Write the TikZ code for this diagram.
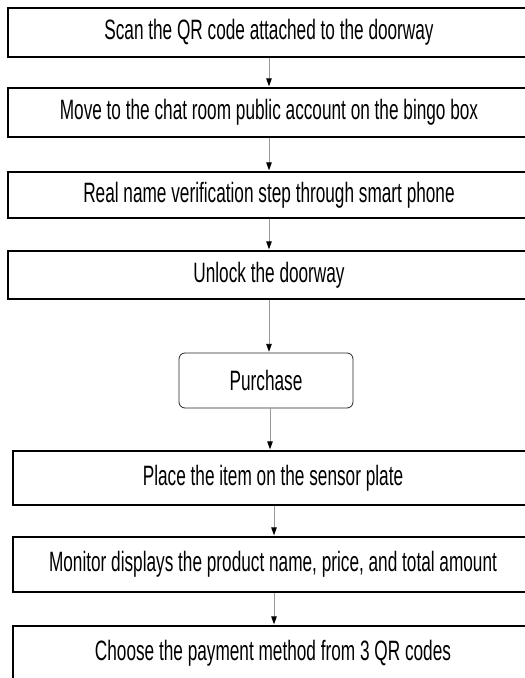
\documentclass[tikz,border=0pt]{standalone}
\usepackage{fontspec}
\setmainfont{Liberation Sans}[FakeStretch=0.615]
\usetikzlibrary{arrows.meta}
\begin{document}
\begin{tikzpicture}[x=1pt,y=1pt,
  stepbox/.style={draw=black, line width=1.7pt, fill=white, inner sep=0pt,
    minimum width=522pt, minimum height=49pt, font=\fontsize{28}{32}\selectfont},
  roundbox/.style={draw=black!85, line width=0.8pt, rounded corners=6pt, inner sep=0pt,
    minimum width=174pt, minimum height=55pt, font=\fontsize{28}{32}\selectfont},
  flow/.style={draw=gray!80, line width=0.9pt, -{Triangle[length=8pt,width=5.5pt,color=black]}, shorten >=0.8pt}
]
\useasboundingbox (0,0) rectangle (525,-678);
\clip (0,0) rectangle (525,-678);
\fill[white] (0,0) rectangle (525,-678);

\node[stepbox] (b1) at (269,-32.5) {Scan the QR code attached to the doorway};
\node[stepbox] (b2) at (269,-112.5) {Move to the chat room public account on the bingo box};
\node[stepbox, minimum height=46pt] (b3) at (269,-195) {Real name verification step through smart phone};
\node[stepbox, minimum height=48pt] (b4) at (269,-275) {Unlock the doorway};
\node[roundbox] (p) at (266,-380.5) {Purchase};
\node[stepbox, minimum width=520pt, minimum height=54pt] (b5) at (273,-478) {Place the item on the sensor plate};
\node[stepbox, minimum width=520pt, minimum height=55pt] (b6) at (273,-564.5) {Monitor displays the product name, price, and total amount};
\node[stepbox, minimum width=520pt, minimum height=54pt] (b7) at (273,-653) {Choose the payment method from 3 QR codes};

\draw[flow] (b1.south -| 269,0) -- (b2.north -| 269,0);
\draw[flow] (b2.south -| 269,0) -- (b3.north -| 269,0);
\draw[flow] (b3.south -| 269,0) -- (b4.north -| 269,0);
\draw[flow] (b4.south -| 269,0) -- (p.north -| 269,0);
\draw[flow] (p.south -| 270,0) -- (b5.north -| 270,0);
\draw[flow] (b5.south -| 274,0) -- (b6.north -| 274,0);
\draw[flow] (b6.south -| 274,0) -- (b7.north -| 274,0);
\end{tikzpicture}
\end{document}
